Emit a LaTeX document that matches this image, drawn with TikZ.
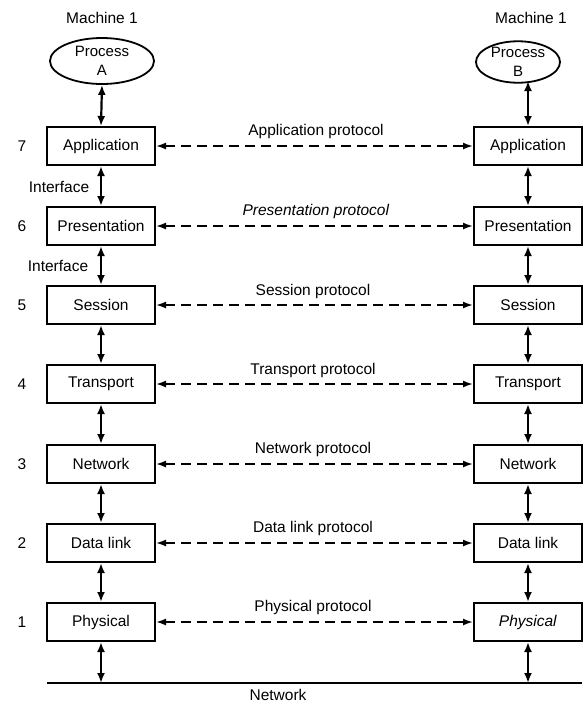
\documentclass[tikz,border=0pt]{standalone}
\usepackage{fontspec}
\setmainfont{Liberation Sans}
\usetikzlibrary{arrows.meta,shapes.geometric}
\begin{document}
\begin{tikzpicture}[x=1pt,y=-1pt,
  font=\fontsize{15.5}{19}\selectfont,
  layer/.style={draw,line width=2pt,minimum width=108pt,minimum height=38pt,inner sep=0pt},
  proc/.style={draw,ellipse,line width=1.8pt,align=center,inner sep=0pt,font=\fontsize{15}{19}\selectfont},
  iface/.style={{Latex[length=10pt,width=8pt]}-{Latex[length=10pt,width=8pt]},line width=2.2pt},
  peer/.style={{Latex[length=10pt,width=7pt]}-{Latex[length=10pt,width=7pt]},line width=1.7pt,dash pattern=on 10pt off 6pt},
  lbl/.style={inner sep=0pt}
]
\useasboundingbox (0,0) rectangle (587,705);

% machine labels and processes
\node[lbl] (m1) at (102,18) {Machine 1};
\node[lbl] (m2) at (531,18) {Machine 1};
\node[proc,minimum width=104pt,minimum height=46pt] (pA) at (102,61) {Process\\A};
\node[proc,minimum width=84pt,minimum height=40pt] (pB) at (518,62) {Process\\B};

% layers
\foreach \n/\name/\y/\rtext in {7/Application/146/Application,
                         6/Presentation/226/Presentation,
                         5/Session/305/Session,
                         4/Transport/384/Transport,
                         3/Network/464/Network,
                         2/Data link/543/Data link,
                         1/Physical/622/\textit{Physical}}{
  \node[layer] (L\n) at (101,\y) {\name};
  \node[layer] (R\n) at (528,\y) {\rtext};
  \node[lbl] (num\n) at (22,\y) {\n};
}

% protocol labels
\node[lbl] (p7) at (316,131) {Application protocol};
\node[lbl] (p6) at (316,211) {\textit{Presentation protocol}};
\node[lbl] (p5) at (313,291) {Session protocol};
\node[lbl] (p4) at (313,370) {Transport protocol};
\node[lbl] (p3) at (313,449) {Network protocol};
\node[lbl] (p2) at (313,528) {Data link protocol};
\node[lbl] (p1) at (313,607) {Physical protocol};

% peer protocols
\foreach \n in {7,6,5,4,3,2,1}{
  \draw[peer] (L\n.east) -- (R\n.west);
}

% interfaces
\node[lbl] (if1) at (59,187) {Interface};
\node[lbl] (if2) at (58,266) {Interface};

\draw[iface] (pA.south) -- (L7.north);
\coordinate (pBb) at (528,81);
\draw[iface] (pBb) -- (R7.north);
\foreach \a/\b in {7/6,6/5,5/4,4/3,3/2,2/1}{
  \draw[iface] (L\a.south) -- (L\b.north);
  \draw[iface] (R\a.south) -- (R\b.north);
}

% network
\coordinate (nl) at (47,683);
\coordinate (nr) at (582,683);
\coordinate (nA) at (101,683);
\coordinate (nB) at (528,683);
\draw[line width=2pt] (nl) -- (nr);
\draw[iface] (L1.south) -- (nA);
\draw[iface] (R1.south) -- (nB);
\node[lbl] (net) at (278,695) {Network};
\end{tikzpicture}
\end{document}
